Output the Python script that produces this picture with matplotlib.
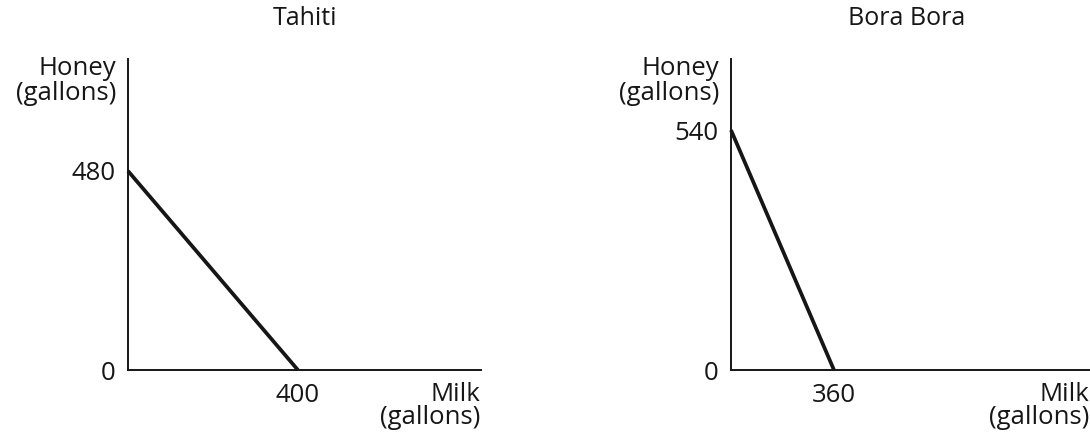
import matplotlib.pyplot as plt

plt.rcParams['font.family'] = ['Open Sans', 'DejaVu Sans']

titles = ["Tahiti", "Bora Bora"]
milk_max = [400, 360]
honey_max = [480, 540]

W, H = 1090, 434
fig = plt.figure(figsize=(W / 100, H / 100), dpi=100)
ink = '#161616'
fs = 18.5

# pixel layout: y axis x, x axis end, limits chosen so intercepts sit right
ax_left = [128, 731]
ax_right = [481, 1090]
ax_top, ax_bot = 59, 370
xlims = [831, 1255]
ylims = [750, 700]
title_x = [305, 907]

def px(x, y):
    return x / W, 1 - y / H

for i in range(2):
    ax = fig.add_axes([ax_left[i] / W, 1 - ax_bot / H,
                       (ax_right[i] - ax_left[i]) / W, (ax_bot - ax_top) / H])
    ax.plot([0, milk_max[i]], [honey_max[i], 0], color=ink, lw=2.7,
            solid_capstyle='butt', clip_on=False)
    ax.set_xlim(0, xlims[i])
    ax.set_ylim(0, ylims[i])
    for s in ['top', 'right']:
        ax.spines[s].set_visible(False)
    for s in ['left', 'bottom']:
        ax.spines[s].set_linewidth(1.4)
        ax.spines[s].set_color(ink)
    ax.set_xticks([milk_max[i]])
    ax.set_xticklabels([str(milk_max[i])])
    ax.set_yticks([0, honey_max[i]])
    ax.set_yticklabels(['0', str(honey_max[i])])
    ax.tick_params(length=0, labelsize=fs, colors=ink)
    ax.tick_params(axis='y', pad=9)
    ax.tick_params(axis='x', pad=9)

    lx = ax_left[i] - 12
    fig.text(*px(lx, 75), "Honey", ha='right', va='baseline', fontsize=fs, color=ink)
    fig.text(*px(lx, 100), "(gallons)", ha='right', va='baseline', fontsize=fs, color=ink)
    rx = ax_right[i] - 1
    fig.text(*px(rx, 401), "Milk", ha='right', va='baseline', fontsize=fs, color=ink)
    fig.text(*px(rx, 424), "(gallons)", ha='right', va='baseline', fontsize=fs, color=ink)
    fig.text(*px(title_x[i], 25), titles[i], ha='center', va='baseline',
             fontsize=18, color=ink)

fig.savefig('out.png', dpi=100)
